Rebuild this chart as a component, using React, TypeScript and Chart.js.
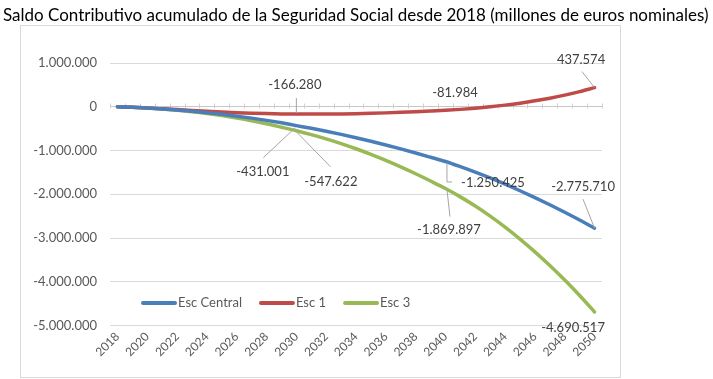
import React, { useEffect, useRef } from "react";
import { Chart, registerables } from "chart.js";

Chart.register(...registerables);

const TITLE = "Saldo Contributivo acumulado de la Seguridad Social desde 2018 (millones de euros nominales)";

const YEARS = [
  "2018", "2019", "2020", "2021", "2022", "2023", "2024", "2025", "2026", "2027", "2028",
  "2029", "2030", "2031", "2032", "2033", "2034", "2035", "2036", "2037", "2038", "2039",
  "2040", "2041", "2042", "2043", "2044", "2045", "2046", "2047", "2048", "2049", "2050",
];

const SERIES_NAMES = ["Esc Central", "Esc 1", "Esc 3"];

const ESC_CENTRAL = [
  0, -13000, -29000, -50000, -75000, -104000, -137000, -174000, -215000, -260000, -311000,
  -368000, -431001, -493000, -560000, -632000, -709000, -790000, -875000, -964000, -1057000,
  -1153000, -1250425, -1368000, -1494000, -1628000, -1770000, -1920000, -2077000, -2241000,
  -2412000, -2590000, -2775710,
];

const ESC_1 = [
  0, -13000, -28000, -46000, -65000, -85000, -104000, -121000, -136000, -148000, -157000,
  -163000, -166280, -167000, -166000, -163000, -158000, -150000, -140000, -128000, -114000,
  -99000, -81984, -60000, -33000, -1000, 37000, 82000, 135000, 196000, 266000, 346000, 437574,
];

const ESC_3 = [
  0, -13000, -30000, -52000, -80000, -114000, -155000, -203000, -258000, -320000, -390000,
  -468000, -547622, -636000, -734000, -842000, -960000, -1088000, -1226000, -1374000,
  -1532000, -1698000, -1869897, -2060000, -2270000, -2501000, -2752000, -3024000, -3316000,
  -3628000, -3961000, -4314000, -4690517,
];

const Y_MIN = -5000000;
const Y_MAX = 1000000;
const Y_STEP = 1000000;

const COLORS = ["#4A7EBB", "#BE4B48", "#98B954"];

// labelled points: series index, category index, label offset and leader-line offsets (styling)
const LABELS = [
  { s: 1, i: 32, dx: -13.5, dy: -28, leader: [[-12.5, -16], [0, 0]] },
  { s: 1, i: 22, dx: 9.5, dy: -17.5, leader: [] },
  { s: 1, i: 12, dx: -1.5, dy: -29, leader: [[0, -16], [0, -1]] },
  { s: 0, i: 12, dx: -33.5, dy: 46, leader: [[-33, 32], [-1, 2]] },
  { s: 2, i: 12, dx: 34.5, dy: 51, leader: [[34, 36], [-1, 0]] },
  { s: 0, i: 22, dx: 47.5, dy: 21.5, leader: [[1.5, 1.5], [1.5, 20.5], [6.5, 20.5]] },
  { s: 2, i: 22, dx: 3.5, dy: 41, leader: [[1.5, 1], [4.5, 28]] },
  { s: 0, i: 32, dx: -11.5, dy: -41, leader: [[-11.5, -29], [0, 0]] },
  { s: 2, i: 32, dx: -21.5, dy: 16, leader: [] },
];

const FONT = "Lato, 'Noto Sans', sans-serif";

function fmt(v: number): string {
  const s = Math.round(Math.abs(v)).toString().replace(/\B(?=(\d{3})+(?!\d))/g, ".");
  return (v < 0 ? "-" : "") + s;
}

const decorPlugin = {
  id: "decor",
  beforeDraw(chart: any) {
    const ctx = chart.ctx;
    ctx.save();
    ctx.fillStyle = "#ffffff";
    ctx.fillRect(0, 0, chart.width, chart.height);
    ctx.strokeStyle = "#d9d9d9";
    ctx.lineWidth = 1;
    ctx.strokeRect(20.5, 25.5, 600, 352);
    ctx.restore();
  },
  beforeDatasetsDraw(chart: any) {
    // minor tick marks on the horizontal axis (at zero)
    const ctx = chart.ctx;
    const xs = chart.scales.x;
    const ys = chart.scales.y;
    const y0 = Math.round(ys.getPixelForValue(0)) + 0.5;
    const n = YEARS.length;
    const w = (xs.right - xs.left) / n;
    ctx.save();
    ctx.strokeStyle = "#d0d0d0";
    ctx.lineWidth = 1;
    ctx.beginPath();
    for (let k = 0; k <= n; k++) {
      const x = Math.round(xs.left + k * w) + 0.5;
      ctx.moveTo(x, y0 - 4);
      ctx.lineTo(x, y0 + 1);
    }
    ctx.stroke();
    ctx.restore();
  },
  afterDraw(chart: any) {
    const ctx = chart.ctx;
    ctx.save();
    // title
    let size = 17;
    ctx.font = `${size}px ${FONT}`;
    const w = ctx.measureText(TITLE).width;
    size = size * 706 / w;
    ctx.font = `${size}px ${FONT}`;
    ctx.fillStyle = "#000000";
    ctx.textAlign = "left";
    ctx.textBaseline = "alphabetic";
    ctx.fillText(TITLE, 3, 21);

    // data labels with leader lines
    ctx.font = `13px ${FONT}`;
    ctx.textAlign = "center";
    ctx.textBaseline = "middle";
    for (const L of LABELS) {
      const meta = chart.getDatasetMeta(L.s);
      const pt = meta.data[L.i];
      const px = pt.x;
      const py = pt.y;
      if (L.leader.length) {
        ctx.strokeStyle = "#a6a6a6";
        ctx.lineWidth = 1;
        ctx.beginPath();
        L.leader.forEach((p: number[], k: number) => {
          const x = px + p[0];
          const y = py + p[1];
          if (k === 0) ctx.moveTo(x, y);
          else ctx.lineTo(x, y);
        });
        ctx.stroke();
      }
      const v = chart.data.datasets[L.s].data[L.i];
      ctx.fillStyle = "#404040";
      ctx.fillText(fmt(v), px + L.dx, py + L.dy);
    }

    // legend
    ctx.font = `13px ${FONT}`;
    ctx.textAlign = "left";
    ctx.textBaseline = "middle";
    let x = 141;
    const ly = 303;
    chart.data.datasets.forEach((ds: any) => {
      ctx.strokeStyle = ds.borderColor;
      ctx.lineWidth = 4;
      ctx.lineCap = "round";
      ctx.beginPath();
      ctx.moveTo(x + 2, ly);
      ctx.lineTo(x + 34, ly);
      ctx.stroke();
      ctx.fillStyle = "#595959";
      ctx.fillText(ds.label, x + 37, ly);
      x += 37 + ctx.measureText(ds.label).width + 17;
    });
    ctx.restore();
  },
};

export default function App() {
  const ref = useRef<HTMLCanvasElement | null>(null);

  useEffect(() => {
    if (!ref.current) return;
    const series = [ESC_CENTRAL, ESC_1, ESC_3];
    const chart = new Chart(ref.current, {
      type: "line",
      data: {
        labels: YEARS,
        datasets: series.map((d, k) => ({
          label: SERIES_NAMES[k],
          data: d,
          borderColor: COLORS[k],
          backgroundColor: COLORS[k],
          borderWidth: 3.5,
          pointRadius: 0,
          tension: 0.4,
          cubicInterpolationMode: "monotone" as const,
          borderCapStyle: "round" as const,
        })),
      },
      options: {
        animation: false,
        responsive: false,
        maintainAspectRatio: false,
        layout: { padding: { top: 63, left: 20, right: 111, bottom: 0 } },
        plugins: {
          legend: { display: false },
          title: { display: false },
          tooltip: { enabled: false },
        },
        scales: {
          x: {
            type: "category",
            offset: true,
            grid: { display: false, drawTicks: false },
            border: { display: false },
            ticks: {
              autoSkip: false,
              minRotation: 45,
              maxRotation: 45,
              padding: 4,
              color: "#595959",
              font: { family: FONT, size: 12 },
              callback: (_v: any, i: number) => (i % 2 === 0 ? YEARS[i] : ""),
            },
            afterFit: (scale: any) => {
              scale.height = 379 - 325.5;
            },
          },
          y: {
            min: Y_MIN,
            max: Y_MAX,
            grid: {
              drawTicks: false,
              color: (c: any) => (c.tick && c.tick.value === 0 ? "#c8c8c8" : "#d9d9d9"),
              lineWidth: 1,
            },
            border: { display: false },
            ticks: {
              stepSize: Y_STEP,
              padding: 13,
              color: "#595959",
              font: { family: FONT, size: 13 },
              callback: (v: any) => fmt(Number(v)),
            },
            afterFit: (scale: any) => {
              scale.width = 90;
            },
          },
        },
      },
      plugins: [decorPlugin],
    });
    return () => chart.destroy();
  }, []);

  return (
    <div style={{ position: "absolute", left: 0, top: 0, width: 713, height: 379, background: "#fff" }}>
      <canvas ref={ref} width={713} height={379} style={{ display: "block", width: 713, height: 379 }} />
    </div>
  );
}
